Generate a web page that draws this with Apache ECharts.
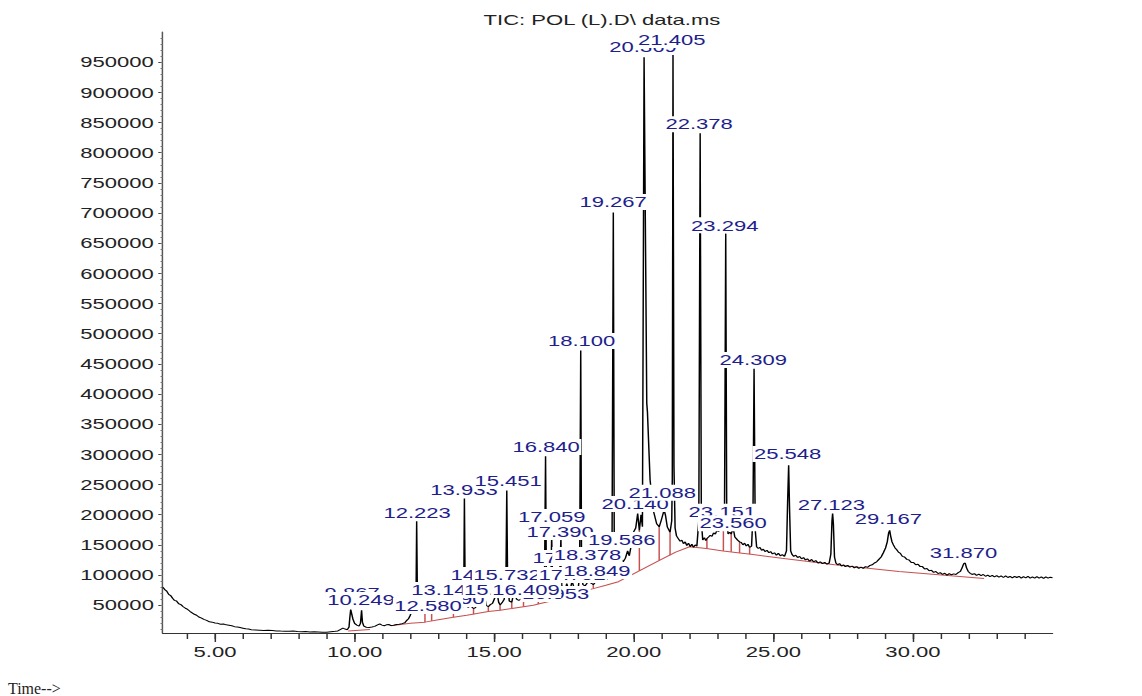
<!DOCTYPE html>
<html>
<head>
<meta charset="utf-8">
<script src="https://cdn.jsdelivr.net/npm/echarts@6/dist/echarts.min.js"></script>
<style>
  html, body { margin: 0; padding: 0; background: #fff; overflow: hidden; }
  /* the report is stretched sideways, so draw narrow and widen */
  #chart { width: 777px; height: 696px; transform: scaleX(1.4698); transform-origin: 0 0; }
</style>
</head>
<body>
<div id="chart"></div>
<script>
// TIC trace, [time (min), abundance]
const ticPoints = [
  [3.13, 80000], [3.2, 76000], [3.27, 73500], [3.34, 68000], [3.41, 66000], [3.48, 61500], [3.55, 58000], [3.62, 57000],
  [3.7, 52500], [3.78, 51000], [3.86, 47500], [3.94, 45000], [4.02, 43000], [4.1, 40000], [4.18, 37500], [4.26, 35000],
  [4.34, 33500], [4.42, 30500], [4.5, 29000], [4.6, 26500], [4.7, 25000], [4.8, 22500], [4.9, 22000], [5.0, 20500],
  [5.1, 20000], [5.2, 18500], [5.3, 19000], [5.4, 17500], [5.5, 17000], [5.6, 16000], [5.7, 14500], [5.8, 14000],
  [5.9, 13000], [6.0, 12000], [6.1, 11000], [6.2, 10500], [6.3, 9500], [6.45, 9000], [6.6, 8500], [6.75, 8000],
  [6.9, 8700], [7.05, 8200], [7.2, 7500], [7.35, 7200], [7.5, 7000], [7.65, 6700], [7.8, 7200], [7.95, 6500],
  [8.1, 6000], [8.25, 6300], [8.4, 5500], [8.55, 6000], [8.7, 5800], [8.85, 5200], [9.0, 5400], [9.15, 6200],
  [9.3, 6800], [9.4, 7500], [9.5, 10000], [9.58, 12000], [9.66, 10500], [9.74, 9500], [9.8, 14000], [9.83, 30000],
  [9.86, 43000], [9.89, 37000], [9.94, 27000], [10.0, 20000], [10.08, 17000], [10.16, 15500], [10.21, 20000], [10.25, 41500],
  [10.28, 22000], [10.33, 15500], [10.42, 13500], [10.52, 13000], [10.62, 13800], [10.72, 15000], [10.82, 17500], [10.9, 19000],
  [10.98, 17000], [11.06, 16000], [11.14, 17500], [11.22, 18000], [11.3, 16500], [11.4, 17000], [11.5, 18000], [11.6, 18500],
  [11.7, 19500], [11.8, 21000], [11.87, 25000], [11.93, 27500], [11.99, 33000], [12.04, 39000], [12.1, 40500], [12.16, 42000],
  [12.2, 60000], [12.223, 189000], [12.25, 60000], [12.29, 43000], [12.36, 41500], [12.44, 40000], [12.52, 38000], [12.58, 52000],
  [12.64, 41000], [12.7, 39000], [12.76, 36500], [12.84, 40000], [12.92, 39000], [13.0, 42000], [13.07, 43500], [13.142, 60000],
  [13.2, 43000], [13.29, 56000], [13.36, 42000], [13.45, 40500], [13.54, 39000], [13.62, 43000], [13.7, 44500], [13.78, 44000],
  [13.86, 46000], [13.91, 70000], [13.933, 227000], [13.96, 75000], [14.01, 48000], [14.08, 46500], [14.14, 60000], [14.2, 47000],
  [14.26, 44500], [14.33, 46000], [14.42, 58000], [14.5, 49000], [14.58, 48000], [14.64, 70000], [14.71, 50000], [14.79, 47500],
  [14.86, 51000], [14.94, 53000], [15.02, 62000], [15.1, 72000], [15.16, 55000], [15.21, 50500], [15.28, 54000], [15.36, 60000],
  [15.42, 90000], [15.451, 240000], [15.48, 90000], [15.54, 57000], [15.63, 55000], [15.69, 68000], [15.74, 78000], [15.8, 60000],
  [15.88, 58000], [15.96, 60000], [16.05, 58000], [16.1, 66000], [16.15, 60000], [16.22, 63000], [16.3, 60000], [16.35, 66000],
  [16.4, 59000], [16.45, 72000], [16.5, 63000], [16.58, 61000], [16.66, 62000], [16.73, 64000], [16.8, 72000], [16.84, 297000],
  [16.87, 85000], [16.92, 66000], [16.98, 68000], [17.03, 90000], [17.059, 165000], [17.09, 90000], [17.14, 70000], [17.2, 76000],
  [17.27, 70000], [17.33, 76000], [17.39, 160000], [17.42, 82000], [17.48, 72000], [17.55, 76000], [17.6, 86000], [17.66, 76000],
  [17.72, 75000], [17.79, 90000], [17.86, 79000], [17.94, 80000], [18.01, 78000], [18.06, 100000], [18.1, 472000], [18.13, 100000],
  [18.18, 84000], [18.25, 82000], [18.32, 86000], [18.378, 112000], [18.43, 88000], [18.5, 86000], [18.55, 84000], [18.62, 88000],
  [18.68, 96000], [18.75, 88000], [18.849, 106000], [18.92, 90000], [19.0, 92000], [19.08, 95000], [19.16, 100000], [19.22, 130000],
  [19.267, 701000], [19.3, 160000], [19.35, 120000], [19.45, 118000], [19.55, 126000], [19.62, 122000], [19.7, 128000], [19.78, 140000],
  [19.84, 132000], [19.92, 152000], [20.0, 172000], [20.07, 178000], [20.14, 202000], [20.2, 174000], [20.26, 200000], [20.31, 180000],
  [20.369, 958000], [20.465, 385000], [20.49, 370000], [20.585, 257000], [20.7, 207000], [20.82, 185000], [20.91, 180000], [20.98, 190000],
  [21.04, 200000], [21.088, 208000], [21.14, 198000], [21.2, 180000], [21.3, 171000], [21.36, 190000], [21.38, 260000], [21.405, 962000],
  [21.44, 280000], [21.48, 178000], [21.53, 165000], [21.6, 160000], [21.66, 156000], [21.72, 158000], [21.78, 152000], [21.84, 155000],
  [21.9, 149000], [21.96, 153000], [22.02, 147000], [22.08, 151000], [22.14, 146000], [22.2, 150000], [22.26, 148000], [22.33, 190000],
  [22.378, 832000], [22.42, 190000], [22.47, 158000], [22.53, 162000], [22.58, 157000], [22.62, 160500], [22.68, 163000], [22.74, 166000],
  [22.8, 164000], [22.86, 170000], [22.92, 168000], [22.98, 174000], [23.04, 172000], [23.1, 178000], [23.151, 188000], [23.21, 174000],
  [23.25, 200000], [23.294, 666000], [23.33, 190000], [23.38, 168000], [23.44, 171000], [23.49, 168000], [23.56, 178000], [23.62, 163000],
  [23.68, 160000], [23.74, 157000], [23.79, 155000], [23.85, 154000], [23.91, 150000], [23.97, 153000], [24.03, 148000], [24.09, 151000],
  [24.15, 146000], [24.22, 148000], [24.27, 200000], [24.309, 442000], [24.35, 175000], [24.4, 147000], [24.46, 144000], [24.52, 146000],
  [24.58, 141000], [24.64, 143000], [24.7, 139000], [24.77, 141000], [24.84, 137000], [24.9, 139000], [24.97, 135000], [25.04, 137000],
  [25.11, 133000], [25.18, 136000], [25.25, 132000], [25.32, 134000], [25.4, 131000], [25.47, 140000], [25.51, 220000], [25.548, 282000],
  [25.58, 210000], [25.62, 140000], [25.67, 134000], [25.73, 131000], [25.8, 133000], [25.87, 129000], [25.94, 131000], [26.01, 127000],
  [26.08, 129000], [26.15, 125000], [26.22, 127000], [26.3, 123000], [26.37, 126000], [26.44, 122000], [26.52, 124000], [26.6, 120000],
  [26.68, 122000], [26.76, 119000], [26.84, 121000], [26.92, 118000], [27.0, 120000], [27.06, 135000], [27.1, 190000], [27.123, 202000],
  [27.15, 185000], [27.19, 130000], [27.24, 120000], [27.3, 117000], [27.37, 119000], [27.44, 115000], [27.51, 117000], [27.58, 114000],
  [27.66, 116000], [27.74, 113000], [27.82, 115000], [27.9, 112000], [27.98, 114000], [28.06, 111000], [28.14, 113000], [28.22, 111000],
  [28.3, 114000], [28.38, 113000], [28.46, 116000], [28.54, 117000], [28.62, 120000], [28.7, 122000], [28.78, 126000], [28.86, 130000],
  [28.94, 137000], [29.02, 145000], [29.08, 155000], [29.13, 170000], [29.167, 174000], [29.2, 165000], [29.25, 155000], [29.3, 150000],
  [29.36, 145000], [29.42, 142000], [29.48, 138000], [29.55, 136000], [29.62, 131000], [29.7, 130000], [29.78, 126000], [29.86, 125000],
  [29.94, 121000], [30.02, 121000], [30.1, 117000], [30.18, 118000], [30.26, 114000], [30.34, 114000], [30.42, 110000], [30.5, 111000],
  [30.58, 107000], [30.66, 108000], [30.74, 104500], [30.82, 106000], [30.9, 102500], [30.98, 104000], [31.06, 101000], [31.14, 103000],
  [31.22, 100000], [31.3, 102500], [31.38, 100500], [31.46, 102000], [31.54, 101000], [31.62, 104000], [31.7, 106000], [31.76, 112000],
  [31.82, 119000], [31.87, 120000], [31.92, 112000], [31.98, 106000], [32.05, 103000], [32.12, 101000], [32.2, 102500], [32.28, 99500],
  [32.36, 101500], [32.44, 99000], [32.52, 101000], [32.6, 98000], [32.68, 100000], [32.76, 97500], [32.84, 99500], [32.92, 97000],
  [33.0, 99000], [33.08, 96500], [33.16, 98500], [33.24, 96000], [33.32, 98500], [33.4, 96000], [33.48, 98000], [33.56, 95500],
  [33.64, 98000], [33.72, 96000], [33.8, 98000], [33.88, 95000], [33.96, 97500], [34.04, 95500], [34.12, 98000], [34.2, 95000],
  [34.28, 97000], [34.36, 95000], [34.44, 97500], [34.52, 95000], [34.6, 97000], [34.68, 94500], [34.76, 97000], [34.84, 95000],
  [34.92, 96500], [35.0, 95500]
]

// integration baselines (red)
const baselineA = [[9.77, 7500], [10.55, 9800]]
const baselineB = [
  [11.3, 16000], [12.0, 20000], [12.52, 22000], [13.0, 26000], [13.54, 30000], [14.02, 33500], [14.79, 39500],
  [15.21, 41700], [15.63, 44500], [16.05, 47500], [16.4, 50000], [16.58, 52000], [17.0, 56500], [17.6, 63800],
  [18.01, 70000], [18.32, 74900], [18.55, 77500], [19.0, 83000], [19.45, 89000], [20.11, 105000], [20.9, 124000],
  [21.5, 138000], [22.0, 147000], [22.6, 144000], [23.2, 140000], [23.8, 136700], [24.2, 134500], [25.3, 128000],
  [27.2, 117000], [29.5, 106000], [32.55, 94300]
]

// red drop lines at peak boundaries
const dropTime = [12.52, 12.76, 13.54, 14.26, 14.79, 15.21, 15.63, 16.05, 16.58, 17.48, 17.72, 18.01, 18.55,
  20.2, 20.91, 21.3, 22.62, 23.21, 23.49, 23.79, 24.15]
const dropBase = [22000, 24000, 30000, 35000, 39500, 41700, 44500, 47500, 52000, 62000, 65500, 70000, 77500,
  107000, 124000, 133000, 144000, 140000, 138500, 136700, 134500]
const dropTop = [38000, 36500, 39000, 44500, 47500, 50500, 55000, 58000, 61000, 72000, 75000, 78000, 84000,
  174000, 180000, 171000, 160500, 174000, 168000, 155000, 146000]

// peak labels: text, and where each label sits on the plot (time, abundance)
const peakNames = ['9.867', '10.249', '12.223', '13.290', '12.580', '13.142', '13.933', '14.612', '15.451', '15.732',
  '15.116', '16.953', '16.409', '16.840', '17.059', '17.390', '17.580', '17.792', '18.100', '18.378', '18.849',
  '19.267', '19.586', '20.140', '20.369', '21.088', '21.405', '22.378', '23.151', '23.294', '23.560', '24.309',
  '25.548', '27.123', '29.167', '31.870']
const labelTime = [9.91, 10.23, 12.24, 13.45, 12.63, 13.24, 13.92, 14.64, 15.5, 15.46,
  15.1, 17.2, 16.14, 16.86, 17.06, 17.36, 17.58, 17.79, 18.13, 18.34, 18.68,
  19.26, 19.57, 20.05, 20.33, 21.02, 21.36, 22.34, 23.17, 23.26, 23.56, 24.28,
  25.51, 27.08, 29.12, 31.81]
const labelLevel = [70300, 58700, 202900, 60300, 48700, 75300, 241000, 100100, 255900, 100100,
  75300, 68600, 75300, 312200, 196200, 171400, 128300, 100100, 487900, 133300, 106700,
  718100, 158100, 217800, 975100, 236500, 986700, 847000, 205000, 679600, 185800, 456400,
  300600, 216100, 192400, 137100]

const xLabelValues = [5, 10, 15, 20, 25, 30]
const xTickValues = [4, 5, 6, 7, 8, 9, 10, 11, 12, 13, 14, 15, 16, 17, 18, 19, 20, 21, 22, 23, 24, 25, 26, 27, 28, 29, 30, 31, 32, 33, 34]
const yLabelValues = [50000, 100000, 150000, 200000, 250000, 300000, 350000, 400000, 450000, 500000,
  550000, 600000, 650000, 700000, 750000, 800000, 850000, 900000, 950000]

const yMinorValues = []
for (let v = 10000; v < 1000000; v += 10000) yMinorValues.push(v)

const font = 'Liberation Sans'
const stretch = 1.4698

const chart = echarts.init(document.getElementById('chart'), null, { renderer: 'svg' })

const redLine = (data) => ({
  type: 'line',
  data: data,
  showSymbol: false,
  silent: true,
  z: 2,
  lineStyle: { color: '#c85050', width: 1 }
})

const option = {
  animation: false,
  backgroundColor: '#fff',
  title: {
    text: 'TIC: POL (L).D\\ data.ms',
    left: 329,
    top: 12,
    padding: 0,
    textStyle: { fontFamily: font, fontSize: 15, fontWeight: 'normal', color: '#222' }
  },
  graphic: [{
    type: 'text',
    x: 5.4,
    y: 680,
    scaleX: 1 / stretch,
    style: { text: 'Time-->', font: '16px "Liberation Serif"', fill: '#222' }
  }],
  grid: { left: 110.7, right: 60.9, top: 32, bottom: 63 },
  xAxis: [
    {
      type: 'value',
      min: 3.126,
      max: 35,
      axisLine: { lineStyle: { color: '#333', width: 1 } },
      axisTick: { customValues: xTickValues, length: 6, lineStyle: { color: '#333' } },
      axisLabel: {
        customValues: xLabelValues,
        formatter: (v) => v.toFixed(2),
        fontFamily: font,
        fontSize: 15,
        color: '#222',
        margin: 11
      },
      splitLine: { show: false }
    },
    {
      type: 'value',
      min: 3.126,
      max: 35,
      position: 'bottom',
      axisLine: { show: false },
      axisTick: { customValues: xLabelValues, length: 9, lineStyle: { color: '#333' } },
      axisLabel: { show: false },
      splitLine: { show: false }
    }
  ],
  yAxis: [
    {
      type: 'value',
      min: 4000,
      max: 1000000,
      axisLine: { show: true, lineStyle: { color: '#555', width: 1 } },
      axisTick: { show: true, customValues: yLabelValues, length: 3, lineStyle: { color: '#444' } },
      axisLabel: {
        customValues: yLabelValues,
        formatter: (v) => String(v),
        fontFamily: font,
        fontSize: 15,
        color: '#222',
        margin: 6
      },
      splitLine: { show: false }
    },
    {
      type: 'value',
      min: 4000,
      max: 1000000,
      position: 'left',
      axisLine: { show: false },
      axisTick: { show: true, customValues: yMinorValues, length: 1.5, lineStyle: { color: '#777' } },
      axisLabel: { show: false },
      splitLine: { show: false }
    }
  ],
  series: [
    redLine(baselineA),
    redLine(baselineB),
    {
      type: 'custom',
      silent: true,
      z: 2,
      data: dropTime.map((t, i) => [t, dropBase[i], dropTop[i]]),
      encode: { x: 0, y: [1, 2] },
      renderItem: (params, api) => {
        const p0 = api.coord([api.value(0), api.value(1)])
        const p1 = api.coord([api.value(0), api.value(2)])
        return {
          type: 'line',
          shape: { x1: p0[0], y1: p0[1], x2: p1[0], y2: p1[1] },
          style: { stroke: '#c85050', lineWidth: 1 }
        }
      }
    },
    {
      type: 'line',
      data: ticPoints,
      showSymbol: false,
      silent: true,
      z: 3,
      lineStyle: { color: '#000', width: 1 }
    },
    {
      type: 'scatter',
      silent: true,
      z: 5,
      symbolSize: 1,
      itemStyle: { color: 'rgba(0,0,0,0)', opacity: 1 },
      data: peakNames.map((name, i) => ({ name: name, value: [labelTime[i], labelLevel[i]] })),
      label: {
        show: true,
        position: 'inside',
        formatter: '{b}',
        fontFamily: font,
        fontSize: 15,
        lineHeight: 15,
        color: '#1e1e8c',
        opacity: 1,
        backgroundColor: '#fff',
        padding: [1, 1, 0, 1]
      },
      labelLayout: { hideOverlap: false }
    }
  ]
}

chart.setOption(option)
</script>
</body>
</html>
